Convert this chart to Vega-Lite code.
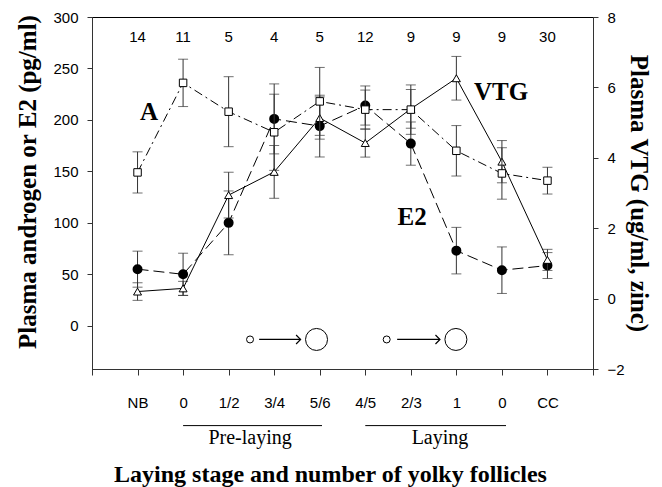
{
  "$schema": "https://vega.github.io/schema/vega-lite/v6.json",
  "width": 501,
  "height": 352,
  "autosize": {"type": "none"},
  "padding": {"left": 92, "top": 17, "right": 69, "bottom": 118},
  "background": "white",
  "config": {
    "view": {"stroke": "#000", "strokeWidth": 1},
    "axis": {
      "grid": false,
      "domainColor": "#333",
      "tickColor": "#333",
      "labelColor": "#000",
      "labelFont": "Liberation Sans",
      "labelFontSize": 15,
      "titleFont": "Liberation Serif",
      "titleFontSize": 25,
      "titleFontWeight": "bold",
      "titleColor": "#000",
      "labelOverlap": false
    }
  },
  "data": {
    "values": [
      {"pos": 0, "stage": "NB", "n": 14, "a": 149, "a_se": 20, "e2": 55, "e2_se": 17.5, "vtg": 0.2, "vtg_se": 0.25},
      {"pos": 1, "stage": "0", "n": 11, "a": 236, "a_se": 23, "e2": 50, "e2_se": 20.5, "vtg": 0.29, "vtg_se": 0.2},
      {"pos": 2, "stage": "1/2", "n": 5, "a": 208, "a_se": 34, "e2": 100, "e2_se": 31, "vtg": 2.94, "vtg_se": 0.65},
      {"pos": 3, "stage": "3/4", "n": 4, "a": 188, "a_se": 37, "e2": 201, "e2_se": 34, "vtg": 3.6, "vtg_se": 0.75},
      {"pos": 4, "stage": "5/6", "n": 5, "a": 218, "a_se": 33, "e2": 194, "e2_se": 30, "vtg": 5.13, "vtg_se": 0.6},
      {"pos": 5, "stage": "4/5", "n": 12, "a": 210, "a_se": 19, "e2": 214, "e2_se": 19, "vtg": 4.42, "vtg_se": 0.4},
      {"pos": 6, "stage": "2/3", "n": 9, "a": 210, "a_se": 24, "e2": 177, "e2_se": 21, "vtg": 5.39, "vtg_se": 0.55},
      {"pos": 7, "stage": "1", "n": 9, "a": 170, "a_se": 24.5, "e2": 73, "e2_se": 22.6, "vtg": 6.26, "vtg_se": 0.62},
      {"pos": 8, "stage": "0", "n": 9, "a": 148, "a_se": 25, "e2": 54, "e2_se": 22.6, "vtg": 3.89, "vtg_se": 0.6},
      {"pos": 9, "stage": "CC", "n": 30, "a": 141, "a_se": 13, "e2": 58.5, "e2_se": 12.6, "vtg": 1.1, "vtg_se": 0.3}
    ]
  },
  "layer": [
    {
      "layer": [
        {
          "mark": {"type": "errorbar", "ticks": {"size": 10, "thickness": 1, "color": "#333"}, "rule": {"color": "#333", "strokeWidth": 1}},
          "encoding": {
            "x": {"field": "pos", "type": "quantitative", "scale": {"domain": [-1, 10], "nice": false, "zero": false},
              "axis": {"values": [-1, 0, 1, 2, 3, 4, 5, 6, 7, 8, 9, 10], "labelExpr": "['','NB','0','1/2','3/4','5/6','4/5','2/3','1','0','CC',''][datum.value+1]", "tickSize": 6, "labelPadding": 20, "labelFlush": false, "title": "Laying stage and number of yolky follicles", "titleFontSize": 24, "titleX": 238, "titleY": 112, "titleBaseline": "alphabetic"}},
            "y": {"field": "e2", "type": "quantitative", "scale": {"domain": [-42, 300], "nice": false, "zero": false}, "axis": null},
            "yError": {"field": "e2_se"}
          }
        },
        {
          "mark": {"type": "line", "color": "#000", "strokeWidth": 1, "strokeDash": [11, 5]},
          "encoding": {
            "x": {"field": "pos", "type": "quantitative", "scale": {"domain": [-1, 10], "nice": false, "zero": false},
              "axis": {"values": [-1, 0, 1, 2, 3, 4, 5, 6, 7, 8, 9, 10], "labelExpr": "['','NB','0','1/2','3/4','5/6','4/5','2/3','1','0','CC',''][datum.value+1]", "tickSize": 6, "labelPadding": 20, "labelFlush": false, "title": "Laying stage and number of yolky follicles", "titleFontSize": 24, "titleX": 238, "titleY": 112, "titleBaseline": "alphabetic"}},
            "y": {"field": "e2", "type": "quantitative", "scale": {"domain": [-42, 300], "nice": false, "zero": false}, "axis": null}
          }
        },
        {
          "mark": {"type": "point", "shape": "circle", "filled": true, "fill": "#000", "stroke": "#000", "size": 64, "opacity": 1},
          "encoding": {
            "x": {"field": "pos", "type": "quantitative", "scale": {"domain": [-1, 10], "nice": false, "zero": false},
              "axis": {"values": [-1, 0, 1, 2, 3, 4, 5, 6, 7, 8, 9, 10], "labelExpr": "['','NB','0','1/2','3/4','5/6','4/5','2/3','1','0','CC',''][datum.value+1]", "tickSize": 6, "labelPadding": 20, "labelFlush": false, "title": "Laying stage and number of yolky follicles", "titleFontSize": 24, "titleX": 238, "titleY": 112, "titleBaseline": "alphabetic"}},
            "y": {"field": "e2", "type": "quantitative", "scale": {"domain": [-42, 300], "nice": false, "zero": false}, "axis": null}
          }
        }
      ]
    },
    {
      "layer": [
        {
          "mark": {"type": "errorbar", "ticks": {"size": 10, "thickness": 1, "color": "#333"}, "rule": {"color": "#333", "strokeWidth": 1}},
          "encoding": {
            "x": {"field": "pos", "type": "quantitative", "scale": {"domain": [-1, 10], "nice": false, "zero": false},
              "axis": {"values": [-1, 0, 1, 2, 3, 4, 5, 6, 7, 8, 9, 10], "labelExpr": "['','NB','0','1/2','3/4','5/6','4/5','2/3','1','0','CC',''][datum.value+1]", "tickSize": 6, "labelPadding": 20, "labelFlush": false, "title": "Laying stage and number of yolky follicles", "titleFontSize": 24, "titleX": 238, "titleY": 112, "titleBaseline": "alphabetic"}},
            "y": {"field": "vtg", "type": "quantitative", "scale": {"domain": [-2, 8], "nice": false, "zero": false},
              "axis": {"orient": "right", "values": [-2, 0, 2, 4, 6, 8], "tickSize": 5, "labelPadding": 9, "title": "Plasma VTG (ug/ml, zinc)", "titleX": 45, "titleBaseline": "middle"}},
            "yError": {"field": "vtg_se"}
          }
        },
        {
          "mark": {"type": "line", "color": "#000", "strokeWidth": 1},
          "encoding": {
            "x": {"field": "pos", "type": "quantitative", "scale": {"domain": [-1, 10], "nice": false, "zero": false},
              "axis": {"values": [-1, 0, 1, 2, 3, 4, 5, 6, 7, 8, 9, 10], "labelExpr": "['','NB','0','1/2','3/4','5/6','4/5','2/3','1','0','CC',''][datum.value+1]", "tickSize": 6, "labelPadding": 20, "labelFlush": false, "title": "Laying stage and number of yolky follicles", "titleFontSize": 24, "titleX": 238, "titleY": 112, "titleBaseline": "alphabetic"}},
            "y": {"field": "vtg", "type": "quantitative", "scale": {"domain": [-2, 8], "nice": false, "zero": false},
              "axis": {"orient": "right", "values": [-2, 0, 2, 4, 6, 8], "tickSize": 5, "labelPadding": 9, "title": "Plasma VTG (ug/ml, zinc)", "titleX": 45, "titleBaseline": "middle"}}
          }
        },
        {
          "mark": {"type": "point", "shape": "triangle-up", "filled": true, "fill": "#fff", "stroke": "#000", "strokeWidth": 1, "size": 64, "opacity": 1},
          "encoding": {
            "x": {"field": "pos", "type": "quantitative", "scale": {"domain": [-1, 10], "nice": false, "zero": false},
              "axis": {"values": [-1, 0, 1, 2, 3, 4, 5, 6, 7, 8, 9, 10], "labelExpr": "['','NB','0','1/2','3/4','5/6','4/5','2/3','1','0','CC',''][datum.value+1]", "tickSize": 6, "labelPadding": 20, "labelFlush": false, "title": "Laying stage and number of yolky follicles", "titleFontSize": 24, "titleX": 238, "titleY": 112, "titleBaseline": "alphabetic"}},
            "y": {"field": "vtg", "type": "quantitative", "scale": {"domain": [-2, 8], "nice": false, "zero": false},
              "axis": {"orient": "right", "values": [-2, 0, 2, 4, 6, 8], "tickSize": 5, "labelPadding": 9, "title": "Plasma VTG (ug/ml, zinc)", "titleX": 45, "titleBaseline": "middle"}}
          }
        }
      ]
    },
    {
      "layer": [
        {
          "mark": {"type": "errorbar", "ticks": {"size": 10, "thickness": 1, "color": "#333"}, "rule": {"color": "#333", "strokeWidth": 1}},
          "encoding": {
            "x": {"field": "pos", "type": "quantitative", "scale": {"domain": [-1, 10], "nice": false, "zero": false},
              "axis": {"values": [-1, 0, 1, 2, 3, 4, 5, 6, 7, 8, 9, 10], "labelExpr": "['','NB','0','1/2','3/4','5/6','4/5','2/3','1','0','CC',''][datum.value+1]", "tickSize": 6, "labelPadding": 20, "labelFlush": false, "title": "Laying stage and number of yolky follicles", "titleFontSize": 24, "titleX": 238, "titleY": 112, "titleBaseline": "alphabetic"}},
            "y": {"field": "a", "type": "quantitative", "scale": {"domain": [-42, 300], "nice": false, "zero": false},
              "axis": {"orient": "left", "values": [0, 50, 100, 150, 200, 250, 300], "tickSize": 5, "labelPadding": 9, "title": "Plasma androgen or E2 (pg/ml)", "titleY": 164.5, "titlePadding": 12}},
            "yError": {"field": "a_se"}
          }
        },
        {
          "mark": {"type": "line", "color": "#000", "strokeWidth": 1, "strokeDash": [9, 4, 2, 4]},
          "encoding": {
            "x": {"field": "pos", "type": "quantitative", "scale": {"domain": [-1, 10], "nice": false, "zero": false},
              "axis": {"values": [-1, 0, 1, 2, 3, 4, 5, 6, 7, 8, 9, 10], "labelExpr": "['','NB','0','1/2','3/4','5/6','4/5','2/3','1','0','CC',''][datum.value+1]", "tickSize": 6, "labelPadding": 20, "labelFlush": false, "title": "Laying stage and number of yolky follicles", "titleFontSize": 24, "titleX": 238, "titleY": 112, "titleBaseline": "alphabetic"}},
            "y": {"field": "a", "type": "quantitative", "scale": {"domain": [-42, 300], "nice": false, "zero": false},
              "axis": {"orient": "left", "values": [0, 50, 100, 150, 200, 250, 300], "tickSize": 5, "labelPadding": 9, "title": "Plasma androgen or E2 (pg/ml)", "titleY": 164.5, "titlePadding": 12}}
          }
        },
        {
          "mark": {"type": "point", "shape": "square", "filled": true, "fill": "#fff", "stroke": "#000", "strokeWidth": 1, "size": 56, "opacity": 1},
          "encoding": {
            "x": {"field": "pos", "type": "quantitative", "scale": {"domain": [-1, 10], "nice": false, "zero": false},
              "axis": {"values": [-1, 0, 1, 2, 3, 4, 5, 6, 7, 8, 9, 10], "labelExpr": "['','NB','0','1/2','3/4','5/6','4/5','2/3','1','0','CC',''][datum.value+1]", "tickSize": 6, "labelPadding": 20, "labelFlush": false, "title": "Laying stage and number of yolky follicles", "titleFontSize": 24, "titleX": 238, "titleY": 112, "titleBaseline": "alphabetic"}},
            "y": {"field": "a", "type": "quantitative", "scale": {"domain": [-42, 300], "nice": false, "zero": false},
              "axis": {"orient": "left", "values": [0, 50, 100, 150, 200, 250, 300], "tickSize": 5, "labelPadding": 9, "title": "Plasma androgen or E2 (pg/ml)", "titleY": 164.5, "titlePadding": 12}}
          }
        }
      ]
    },
    {
      "layer": [
        {
          "mark": {"type": "text", "font": "Liberation Sans", "fontSize": 15, "baseline": "middle", "align": "center", "color": "#000"},
          "encoding": {
            "x": {"field": "pos", "type": "quantitative", "scale": {"domain": [-1, 10], "nice": false, "zero": false},
              "axis": {"values": [-1, 0, 1, 2, 3, 4, 5, 6, 7, 8, 9, 10], "labelExpr": "['','NB','0','1/2','3/4','5/6','4/5','2/3','1','0','CC',''][datum.value+1]", "tickSize": 6, "labelPadding": 20, "labelFlush": false, "title": "Laying stage and number of yolky follicles", "titleFontSize": 24, "titleX": 238, "titleY": 112, "titleBaseline": "alphabetic"}},
            "y": {"datum": 280.1, "scale": {"domain": [-42, 300], "nice": false, "zero": false}, "axis": null},
            "text": {"field": "n"}
          }
        },
        {
          "data": {"values": [{}]},
          "mark": {"type": "text", "text": "A", "font": "Liberation Serif", "fontWeight": "bold", "fontSize": 25, "baseline": "middle", "align": "center", "color": "#000"},
          "encoding": {
            "x": {"datum": 0.25, "type": "quantitative"},
            "y": {"datum": 207.8, "scale": {"domain": [-42, 300], "nice": false, "zero": false}, "axis": null}
          }
        },
        {
          "data": {"values": [{}]},
          "mark": {"type": "text", "text": "VTG", "font": "Liberation Serif", "fontWeight": "bold", "fontSize": 25, "baseline": "middle", "align": "center", "color": "#000"},
          "encoding": {
            "x": {"datum": 7.98, "type": "quantitative"},
            "y": {"datum": 226.7, "scale": {"domain": [-42, 300], "nice": false, "zero": false}, "axis": null}
          }
        },
        {
          "data": {"values": [{}]},
          "mark": {"type": "text", "text": "E2", "font": "Liberation Serif", "fontWeight": "bold", "fontSize": 25, "baseline": "middle", "align": "center", "color": "#000"},
          "encoding": {
            "x": {"datum": 6.03, "type": "quantitative"},
            "y": {"datum": 106.1, "scale": {"domain": [-42, 300], "nice": false, "zero": false}, "axis": null}
          }
        },
        {
          "data": {"values": [{}]},
          "mark": {"type": "point", "shape": "circle", "filled": false, "stroke": "#000", "strokeWidth": 1, "size": 49, "opacity": 1},
          "encoding": {
            "x": {"datum": 2.47, "type": "quantitative"},
            "y": {"datum": -13.3, "scale": {"domain": [-42, 300], "nice": false, "zero": false}, "axis": null}
          }
        },
        {
          "data": {"values": [{}]},
          "mark": {"type": "rule", "color": "#000", "strokeWidth": 1.2},
          "encoding": {
            "x": {"datum": 2.67, "type": "quantitative"},
            "x2": {"datum": 3.58},
            "y": {"datum": -13.3, "scale": {"domain": [-42, 300], "nice": false, "zero": false}, "axis": null}
          }
        },
        {
          "data": {"values": [{}]},
          "mark": {"type": "point", "shape": "M-1,-1L0,0L-1,1", "filled": false, "stroke": "#000", "strokeWidth": 1.2, "size": 81, "opacity": 1},
          "encoding": {
            "x": {"datum": 3.58, "type": "quantitative"},
            "y": {"datum": -13.3, "scale": {"domain": [-42, 300], "nice": false, "zero": false}, "axis": null}
          }
        },
        {
          "data": {"values": [{}]},
          "mark": {"type": "point", "shape": "circle", "filled": false, "stroke": "#000", "strokeWidth": 1, "size": 484, "opacity": 1},
          "encoding": {
            "x": {"datum": 3.93, "type": "quantitative"},
            "y": {"datum": -13.3, "scale": {"domain": [-42, 300], "nice": false, "zero": false}, "axis": null}
          }
        },
        {
          "data": {"values": [{}]},
          "mark": {"type": "point", "shape": "circle", "filled": false, "stroke": "#000", "strokeWidth": 1, "size": 49, "opacity": 1},
          "encoding": {
            "x": {"datum": 5.47, "type": "quantitative"},
            "y": {"datum": -13.3, "scale": {"domain": [-42, 300], "nice": false, "zero": false}, "axis": null}
          }
        },
        {
          "data": {"values": [{}]},
          "mark": {"type": "rule", "color": "#000", "strokeWidth": 1.2},
          "encoding": {
            "x": {"datum": 5.7, "type": "quantitative"},
            "x2": {"datum": 6.64},
            "y": {"datum": -13.3, "scale": {"domain": [-42, 300], "nice": false, "zero": false}, "axis": null}
          }
        },
        {
          "data": {"values": [{}]},
          "mark": {"type": "point", "shape": "M-1,-1L0,0L-1,1", "filled": false, "stroke": "#000", "strokeWidth": 1.2, "size": 81, "opacity": 1},
          "encoding": {
            "x": {"datum": 6.64, "type": "quantitative"},
            "y": {"datum": -13.3, "scale": {"domain": [-42, 300], "nice": false, "zero": false}, "axis": null}
          }
        },
        {
          "data": {"values": [{}]},
          "mark": {"type": "point", "shape": "circle", "filled": false, "stroke": "#000", "strokeWidth": 1, "size": 484, "opacity": 1},
          "encoding": {
            "x": {"datum": 6.99, "type": "quantitative"},
            "y": {"datum": -13.3, "scale": {"domain": [-42, 300], "nice": false, "zero": false}, "axis": null}
          }
        },
        {
          "data": {"values": [{}]},
          "mark": {"type": "rule", "color": "#000", "strokeWidth": 1},
          "encoding": {
            "x": {"datum": 1, "type": "quantitative"},
            "x2": {"datum": 4.05},
            "y": {"datum": -97, "scale": {"domain": [-42, 300], "nice": false, "zero": false}, "axis": null}
          }
        },
        {
          "data": {"values": [{}]},
          "mark": {"type": "rule", "color": "#000", "strokeWidth": 1},
          "encoding": {
            "x": {"datum": 5, "type": "quantitative"},
            "x2": {"datum": 8.09},
            "y": {"datum": -97, "scale": {"domain": [-42, 300], "nice": false, "zero": false}, "axis": null}
          }
        },
        {
          "data": {"values": [{}]},
          "mark": {"type": "text", "text": "Pre-laying", "font": "Liberation Serif", "fontSize": 20, "baseline": "middle", "align": "center", "color": "#000"},
          "encoding": {
            "x": {"datum": 2.47, "type": "quantitative"},
            "y": {"datum": -108.7, "scale": {"domain": [-42, 300], "nice": false, "zero": false}, "axis": null}
          }
        },
        {
          "data": {"values": [{}]},
          "mark": {"type": "text", "text": "Laying", "font": "Liberation Serif", "fontSize": 20, "baseline": "middle", "align": "center", "color": "#000"},
          "encoding": {
            "x": {"datum": 6.64, "type": "quantitative"},
            "y": {"datum": -108.7, "scale": {"domain": [-42, 300], "nice": false, "zero": false}, "axis": null}
          }
        }
      ]
    }
  ],
  "resolve": {"scale": {"y": "independent"}}
}
